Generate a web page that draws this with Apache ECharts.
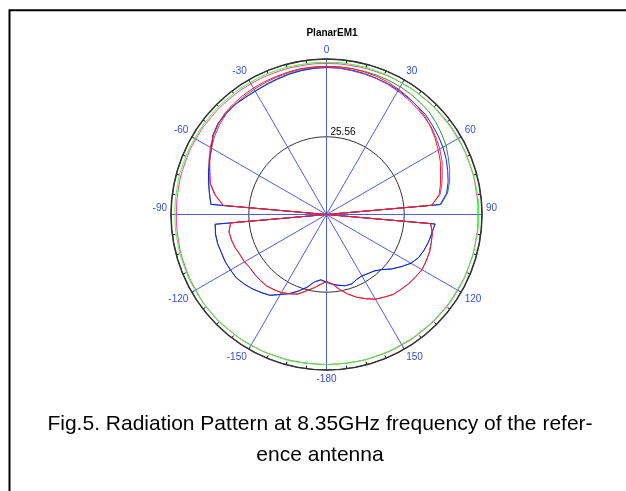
<!DOCTYPE html>
<html>
<head>
<meta charset="utf-8">
<script src="https://cdn.jsdelivr.net/npm/echarts@6/dist/echarts.min.js"></script>
<style>
html,body{margin:0;padding:0;background:#fff;}
#chart{width:626px;height:491px;}
</style>
</head>
<body>
<div id="chart"></div>
<script>
// Angles in degrees (0 = top, clockwise positive)
var angles5 = [-180,-175,-170,-165,-160,-155,-150,-145,-140,-135,-130,-125,-120,-115,-110,-105,-100,-95,-90,-85,-80,-75,-70,-65,-60,-55,-50,-45,-40,-35,-30,-25,-20,-15,-10,-5,0,5,10,15,20,25,30,35,40,45,50,55,60,65,70,75,80,85,90,95,100,105,110,115,120,125,130,135,140,145,150,155,160,165,170,175,180];
var angles10 = [-180,-170,-160,-150,-140,-130,-120,-110,-100,-90,-80,-70,-60,-50,-40,-30,-20,-10,0,10,20,30,40,50,60,70,80,90,100,110,120,130,140,150,160,170,180];

var redTrace = [22.0,23.2,24.5,26.1,27.8,28.8,29.6,30.2,30.6,30.7,30.7,30.7,31.1,31.4,31.9,32.4,32.5,31.7,0,34.0,37.1,39.5,40.9,42.6,44.1,45.4,46.4,47.2,47.5,47.8,48.0,48.2,48.3,48.5,48.7,48.7,48.7,48.7,48.7,48.5,48.3,48.0,47.5,47.0,46.4,45.7,44.7,43.6,42.4,41.3,39.9,38.8,37.6,34.8,0,34.4,35.3,35.7,36.0,36.2,36.2,35.8,35.3,34.8,34.2,33.2,32.1,30.6,28.9,27.1,25.0,23.0,22.0];
var purpleTrace = [22.1,23.0,24.6,26.0,27.9,28.7,29.7,30.1,30.7,30.6,30.8,30.6,31.2,31.3,32.0,32.3,32.6,31.6,0,34.1,37.3,39.7,40.8,42.3,43.7,44.9,45.9,46.7,47.0,47.3,47.5,47.8,48.0,48.3,48.5,48.6,48.5,48.3,48.0,47.8,47.6,47.3,46.9,46.4,45.9,45.4,44.9,44.0,43.0,41.9,40.5,39.3,37.9,34.6,0,34.3,35.4,35.6,36.1,36.1,36.3,35.7,35.4,34.7,34.3,33.1,32.2,30.5,29.0,27.0,25.1,22.9,22.1];
var blueTrace = [22.2,21.5,22.5,24.7,26.8,28.6,30.4,32.4,33.5,34.5,35.5,36.2,36.5,36.7,36.8,37.0,37.1,36.7,0,38.1,39.1,40.1,41.3,42.4,43.7,45.5,46.5,46.8,47.0,46.8,46.8,47.0,47.3,47.7,48.0,48.2,48.3,48.3,48.2,48.0,47.7,47.5,47.2,46.8,46.5,46.2,45.5,44.9,44.2,43.4,42.4,41.4,40.1,37.5,0,35.8,35.2,34.7,34.2,33.4,32.1,29.9,27.9,25.6,24.3,23.7,23.3,23.5,24.3,24.2,23.7,23.0,22.2];
var greenTrace = [22.3,21.7,22.4,24.9,26.7,28.8,30.3,32.5,33.4,34.6,35.4,36.3,36.4,36.8,36.7,37.1,37.0,36.8,0,38.2,39.0,40.2,41.2,42.5,43.6,45.6,46.6,46.9,47.1,46.9,46.9,47.2,47.5,47.9,48.2,48.4,48.6,48.7,48.7,48.7,48.7,48.6,48.5,48.3,48.0,47.7,47.0,46.2,45.4,44.2,43.1,41.9,40.4,37.8,0,35.9,35.1,34.8,34.1,33.5,32.0,30.0,27.8,25.7,24.2,23.8,23.2,23.6,24.2,24.3,23.6,23.1,22.3];
var outerGreen = [49.3,49.4,49.5,49.5,49.6,49.7,49.8,49.8,49.8,49.8,49.9,50.0,50.0,50.1,50.1,50.1,50.1,50.0,50.0,50.0,49.9,49.8,49.8,49.8,49.8,49.9,50.0,50.0,49.9,49.8,49.6,49.5,49.4,49.3,49.3,49.3,49.3];
var outerPink = [49.3,49.3,49.4,49.6,49.7,49.8,49.6,49.5,49.4,49.3,49.4,49.5,49.6,49.6,49.6,49.6,49.6,49.6,49.6,49.6,49.7,49.8,49.9,50.0,50.0,49.9,49.8,49.8,49.8,49.8,49.8,49.7,49.6,49.5,49.4,49.3,49.3];

var radiusMax = 51.12;
var radiusStep = 25.56;
var angleTicks = 30;

function pairs(ang, vals) {
  return vals.map(function (v, i) { return [v, (ang[i] + 360) % 360]; });
}
function lineSeries(name, ang, vals, color, smooth) {
  return {
    name: name, type: 'line', coordinateSystem: 'polar',
    data: pairs(ang, vals), symbol: 'none', smooth: !!smooth,
    lineStyle: { color: color, width: 1 }, silent: true, animation: false
  };
}

var chart = echarts.init(document.getElementById('chart'), null, { renderer: 'canvas' });
chart.setOption({
  backgroundColor: '#fff',
  animation: false,
  title: [
    { text: 'PlanarEM1', left: 327, top: 23, textAlign: 'center',
      textStyle: { fontFamily: 'Liberation Sans, Arial', fontSize: 10, fontWeight: 'bold', color: '#000' } },
    { text: 'Fig.5. Radiation Pattern at 8.35GHz frequency of the refer-\nence antenna',
      left: 315, top: 404, textAlign: 'center',
      textStyle: { fontFamily: 'Liberation Sans, Arial', fontSize: 21, fontWeight: 'normal', color: '#000', lineHeight: 31, align: 'center' } }
  ],
  graphic: [
    { type: 'rect', shape: { x: 9.5, y: 10.3, width: 700, height: 600 }, style: { fill: 'none', stroke: '#000', lineWidth: 2 }, silent: true }
  ],
  polar: { center: [326.5, 214.5], radius: 155.5 },
  angleAxis: {
    type: 'value', min: 0, max: 360, interval: angleTicks, startAngle: 90, clockwise: true,
    axisLine: { show: true, lineStyle: { color: '#333', width: 1.5 } },
    axisTick: { show: true, inside: true, length: 3, lineStyle: { color: '#000' } },
    minorTick: { show: true, splitNumber: 4, length: 3, lineStyle: { color: '#000' } },
    splitLine: { show: true, lineStyle: { color: '#4d5fdc', width: 1 } },
    axisLabel: {
      margin: 4, color: '#3a4fd0', fontFamily: 'Liberation Sans, Arial', fontSize: 10,
      formatter: function (v) {
        if (v === 360) return '';
        var s = v === 180 ? '-180' : (v > 180 ? String(v - 360) : String(v));
        if (v === 90 || v === 270) return '{up|' + s + '}';
        return s;
      },
      rich: { up: { padding: [0, 0, 12, 0], color: '#3a4fd0', fontSize: 10, fontFamily: 'Liberation Sans, Arial' } }
    }
  },
  radiusAxis: {
    type: 'value', min: 0, max: radiusMax, interval: radiusStep,
    axisLine: { show: false }, axisTick: { show: false },
    splitLine: { show: true, lineStyle: { color: '#333', width: 1 } },
    axisLabel: {
      color: '#000', fontFamily: 'Liberation Sans, Arial', fontSize: 10,
      align: 'left', verticalAlign: 'bottom', margin: -4,
      formatter: function (v) { return Math.abs(v - radiusStep) < 1e-6 ? '25.56' : ''; }
    }
  },
  series: [
    lineSeries('pink', angles10, outerPink, '#ff3c9c', true),
    lineSeries('lightgreen', angles10, outerGreen, '#33ff33', true),
    lineSeries('green', angles5, greenTrace, '#2f8f3f'),
    lineSeries('blue', angles5, blueTrace, '#1a1aff'),
    lineSeries('purple', angles5, purpleTrace, '#a03ca8'),
    lineSeries('red', angles5, redTrace, '#ff1a1a')
  ]
});
</script>
</body>
</html>
